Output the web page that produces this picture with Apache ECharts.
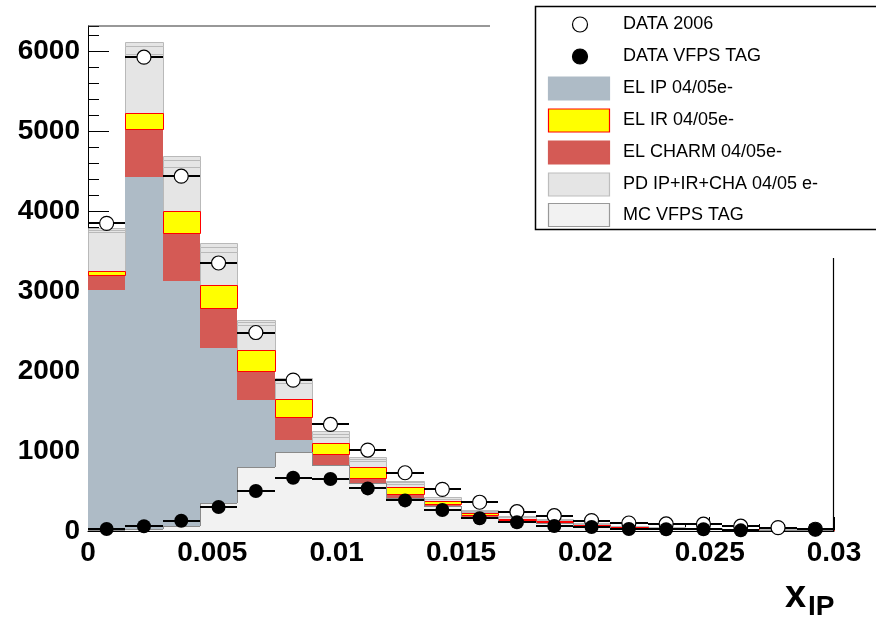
<!DOCTYPE html>
<html>
<head>
<meta charset="utf-8">
<script src="https://cdn.jsdelivr.net/npm/echarts@6/dist/echarts.min.js"></script>
<style>
  html, body { margin: 0; padding: 0; background: #fff; }
  #chart { width: 876px; height: 618px; }
</style>
</head>
<body>
<div id="chart"></div>
<script>
// x_IP bin edges: 20 bins of width 0.0015
const binEdges = [0, 0.0015, 0.003, 0.0045, 0.006, 0.0075, 0.009, 0.0105, 0.012, 0.0135,
  0.015, 0.0165, 0.018, 0.0195, 0.021, 0.0225, 0.024, 0.0255, 0.027, 0.0285, 0.03];

// Stacked Monte Carlo components (events per bin), bottom to top
const elIP    = [3012, 4425, 3129, 2291, 1637, 1138, 825, 596, 408, 313, 171, 113, 95, 60, 40, 30, 22, 15, 10, 8];
const elCharm = [188, 600, 600, 500, 363, 287, 138, 71, 55, 25, 25, 22, 15, 10, 8, 5, 4, 3, 2, 2];
const elIR    = [50, 200, 275, 292, 262, 221, 141, 129, 83, 41, 25, 15, 11, 8, 4, 3, 3, 2, 2, 1];
const pdIP    = [490, 750, 551, 409, 313, 200, 73, 74, 44, 16, 20, 25, 15, 12, 8, 7, 5, 5, 3, 3];
const pdIR    = [30, 100, 90, 62, 41, 42, 42, 30, 20, 10, 10, 8, 6, 6, 3, 3, 2, 2, 2, 1];
const pdCHA   = [20, 41, 42, 50, 30, 33, 35, 29, 19, 16, 9, 5, 4, 4, 2, 2, 2, 1, 1, 1];

// MC with VFPS tag (overlaid, not stacked)
const mcVfpsTag = [8, 25, 60, 346, 804, 992, 825, 596, 408, 313, 171, 113, 95, 60, 40, 30, 22, 15, 10, 8];

// Measured data
const data2006    = [3850, 5930, 4440, 3354, 2484, 1888, 1334, 1013, 729, 521, 360, 242, 192, 130, 100, 88, 85, 60, 42, 22];
const dataVfpsTag = [25, 60, 129, 300, 500, 667, 650, 533, 383, 263, 160, 109, 63, 50, 25, 21, 21, 8, null, 20];

const yMax = 6320;
const FONT = 'Liberation Sans, Arial, sans-serif';

// Build [x0, x1, yLow, yHigh] boxes for a stack layer
function stackLayers(layers) {
  const base = binEdges.slice(1).map(() => 0);
  return layers.map(vals => vals.map((v, i) => {
    const lo = base[i];
    base[i] += v;
    return [binEdges[i], binEdges[i + 1], lo, base[i]];
  }));
}
const [bIP, bCharm, bIR, bPdIP, bPdIR, bPdCHA] = stackLayers([elIP, elCharm, elIR, pdIP, pdIR, pdCHA]);

// Overlay histogram: [x0, x1, 0, height, previousHeight, isLast]
const bMc = mcVfpsTag.map((v, i) => [binEdges[i], binEdges[i + 1], 0, v, i ? mcVfpsTag[i - 1] : 0, i === mcVfpsTag.length - 1 ? 1 : 0]);

// Boxes snapped to whole pixels so neighbouring bins join without seams
function boxRenderer(fill, stroke, lw) {
  return function (params, api) {
    const p0 = api.coord([api.value(0), api.value(3)]);
    const p1 = api.coord([api.value(1), api.value(2)]);
    const x0 = Math.round(p0[0]), x1 = Math.round(p1[0]);
    const y0 = Math.round(p0[1]), y1 = Math.round(p1[1]);
    const off = stroke ? 0.5 : 0;
    return {
      type: 'rect',
      shape: { x: x0 + off, y: y0 + off, width: x1 - x0, height: y1 - y0 },
      style: { fill: fill, stroke: stroke || null, lineWidth: lw || 0 }
    };
  };
}

function boxSeries(name, data, fill, stroke, lw, z) {
  return {
    type: 'custom', name: name, data: data, z: z,
    encode: { x: [0, 1], y: [2, 3] },
    renderItem: boxRenderer(fill, stroke, lw),
    silent: true
  };
}

// Filled bin with a step-style outline (top edge plus the step to the previous bin)
function stepRenderer(fill, stroke) {
  return function (params, api) {
    const p0 = api.coord([api.value(0), api.value(3)]);
    const p1 = api.coord([api.value(1), api.value(2)]);
    const pp = api.coord([api.value(0), api.value(4)]);
    const x0 = Math.round(p0[0]), x1 = Math.round(p1[0]);
    const y0 = Math.round(p0[1]), y1 = Math.round(p1[1]), yp = Math.round(pp[1]);
    const children = [
      { type: 'rect', shape: { x: x0, y: y0, width: x1 - x0, height: y1 - y0 }, style: { fill: fill } },
      { type: 'line', shape: { x1: x0, y1: y0 + 0.5, x2: x1, y2: y0 + 0.5 }, style: { stroke: stroke, lineWidth: 1 } },
      { type: 'line', shape: { x1: x0 + 0.5, y1: yp, x2: x0 + 0.5, y2: y0 }, style: { stroke: stroke, lineWidth: 1 } }
    ];
    if (api.value(5)) {
      children.push({ type: 'line', shape: { x1: x1 - 0.5, y1: y0, x2: x1 - 0.5, y2: y1 }, style: { stroke: stroke, lineWidth: 1 } });
    }
    return { type: 'group', children: children };
  };
}

// Horizontal bin-width bars for the data points
function hBars(vals) {
  const out = [];
  vals.forEach((v, i) => { if (v !== null) out.push([binEdges[i], binEdges[i + 1], v]); });
  return out;
}
function hBarRenderer(params, api) {
  const a = api.coord([api.value(0), api.value(2)]);
  const b = api.coord([api.value(1), api.value(2)]);
  const y = Math.round(a[1]);
  return {
    type: 'line',
    shape: { x1: Math.round(a[0]), y1: y, x2: Math.round(b[0]), y2: y },
    style: { stroke: '#000', lineWidth: 2 }
  };
}
function points(vals) {
  const out = [];
  vals.forEach((v, i) => { if (v !== null) out.push([(binEdges[i] + binEdges[i + 1]) / 2, v]); });
  return out;
}

const chart = echarts.init(document.getElementById('chart'), null, { renderer: 'canvas' });

const axisLabelFont = { fontFamily: FONT, fontWeight: 'bold', fontSize: 28, color: '#000' };

chart.setOption({
  animation: false,
  backgroundColor: '#fff',
  grid: { left: 88, right: 42, top: 26, bottom: 87, containLabel: false },
  xAxis: [
    {
      type: 'value', min: 0, max: 0.03, interval: 0.001, position: 'bottom',
      axisLine: { show: true, onZero: false, lineStyle: { color: '#000', width: 1 } },
      axisTick: { show: true, inside: true, length: 7, lineStyle: { color: '#000' } },
      axisLabel: { show: false },
      splitLine: { show: false }
    },
    {
      type: 'value', min: 0, max: 0.03, interval: 0.005, position: 'bottom',
      axisLine: { show: false, onZero: false },
      axisTick: { show: true, inside: true, length: 14, lineStyle: { color: '#000' } },
      axisLabel: Object.assign({ margin: 8, formatter: v => String(+v.toFixed(4)) }, axisLabelFont),
      splitLine: { show: false }
    }
  ],
  yAxis: [
    {
      type: 'value', min: 0, max: yMax, interval: 200, position: 'left',
      axisLine: { show: true, onZero: false, lineStyle: { color: '#000', width: 1 } },
      axisTick: { show: true, inside: true, length: 11, lineStyle: { color: '#000' } },
      axisLabel: { show: false },
      splitLine: { show: false }
    },
    {
      type: 'value', min: 0, max: yMax, interval: 1000, position: 'left',
      axisLine: { show: false, onZero: false },
      axisTick: { show: true, inside: true, length: 21, lineStyle: { color: '#000' } },
      axisLabel: Object.assign({
        margin: 8,
        padding: [4, 0, 0, 0],
        showMaxLabel: false,
        formatter: v => (v % 1000 === 0 ? String(v) : '')
      }, axisLabelFont),
      splitLine: { show: false }
    }
  ],
  series: [
    boxSeries('EL IP 04/05e-', bIP, '#aebbc6', null, 0, 2),
    boxSeries('EL CHARM 04/05e-', bCharm, '#d45a55', null, 0, 2),
    boxSeries('PD IP', bPdIP, '#e5e5e5', '#b9b9b9', 1, 3),
    boxSeries('PD IR', bPdIR, '#e5e5e5', '#b9b9b9', 1, 3),
    boxSeries('PD CHA', bPdCHA, '#e5e5e5', '#b9b9b9', 1, 3),
    boxSeries('EL IR 04/05e-', bIR, '#ffff00', '#ff0000', 1, 4),
    {
      type: 'custom', name: 'MC VFPS TAG', data: bMc, z: 5,
      encode: { x: [0, 1], y: [2, 3] },
      renderItem: stepRenderer('#f2f2f2', '#8a8a8a'),
      silent: true
    },
    {
      type: 'custom', name: 'DATA 2006 bins', data: hBars(data2006), z: 6,
      encode: { x: [0, 1], y: 2 }, renderItem: hBarRenderer, silent: true
    },
    {
      type: 'scatter', name: 'DATA 2006', data: points(data2006), z: 7,
      symbol: 'circle', symbolSize: 14,
      itemStyle: { color: '#fff', borderColor: '#000', borderWidth: 1.2, opacity: 1 },
      silent: true
    },
    {
      type: 'custom', name: 'DATA VFPS TAG bins', data: hBars(dataVfpsTag), z: 8,
      encode: { x: [0, 1], y: 2 }, renderItem: hBarRenderer, silent: true
    },
    {
      type: 'scatter', name: 'DATA VFPS TAG', data: points(dataVfpsTag), z: 9,
      symbol: 'circle', symbolSize: 14,
      itemStyle: { color: '#000', borderColor: '#000', borderWidth: 0, opacity: 1 },
      silent: true
    }
  ]
});

// Frame pieces, axis title and legend box
const legendRows = [
  { label: 'DATA 2006', kind: 'open' },
  { label: 'DATA VFPS TAG', kind: 'filled' },
  { label: 'EL IP 04/05e-', kind: 'box', fill: '#aebbc6', stroke: '#aebbc6' },
  { label: 'EL IR 04/05e-', kind: 'box', fill: '#ffff00', stroke: '#ff0000' },
  { label: 'EL CHARM 04/05e-', kind: 'box', fill: '#d45a55', stroke: '#d45a55' },
  { label: 'PD IP+IR+CHA 04/05 e-', kind: 'box', fill: '#e5e5e5', stroke: '#bdbdbd' },
  { label: 'MC VFPS TAG', kind: 'box', fill: '#f2f2f2', stroke: '#999999' }
];

const graphics = [
  { type: 'line', shape: { x1: 88, y1: 26, x2: 490, y2: 26 }, style: { stroke: '#333', lineWidth: 1.2 }, z: 20 },
  { type: 'line', shape: { x1: 833.5, y1: 258, x2: 833.5, y2: 531 }, style: { stroke: '#000', lineWidth: 1.2 }, z: 20 },
  { type: 'text', x: 785, y: 597, style: { text: 'x', fontFamily: FONT, fontWeight: 'bold', fontSize: 38, fill: '#000', verticalAlign: 'middle' }, z: 20 },
  { type: 'text', x: 808, y: 607, style: { text: 'IP', fontFamily: FONT, fontWeight: 'bold', fontSize: 28, fill: '#000', verticalAlign: 'middle' }, z: 20 },
  { type: 'rect', shape: { x: 535.5, y: 6.5, width: 360, height: 223 }, style: { fill: '#fff', stroke: '#000', lineWidth: 1.5 }, z: 30 }
];

const rowY = [24.5, 56.5, 88.5, 120.5, 152.5, 184.5, 215];
legendRows.forEach((r, i) => {
  const cy = rowY[i];
  if (r.kind === 'open' || r.kind === 'filled') {
    graphics.push({
      type: 'circle', shape: { cx: 580, cy: cy, r: 7.5 },
      style: { fill: r.kind === 'open' ? '#fff' : '#000', stroke: '#000', lineWidth: 1.2 }, z: 31
    });
  } else {
    graphics.push({
      type: 'rect', shape: { x: 548.5, y: cy - 11.5, width: 61, height: 23 },
      style: { fill: r.fill, stroke: r.stroke, lineWidth: 1.2 }, z: 31
    });
  }
  graphics.push({
    type: 'text', x: 623, y: cy,
    style: { text: r.label, fontFamily: FONT, fontSize: 18, fill: '#000', verticalAlign: 'middle' }, z: 31
  });
});

chart.setOption({ graphic: graphics });
</script>
</body>
</html>
